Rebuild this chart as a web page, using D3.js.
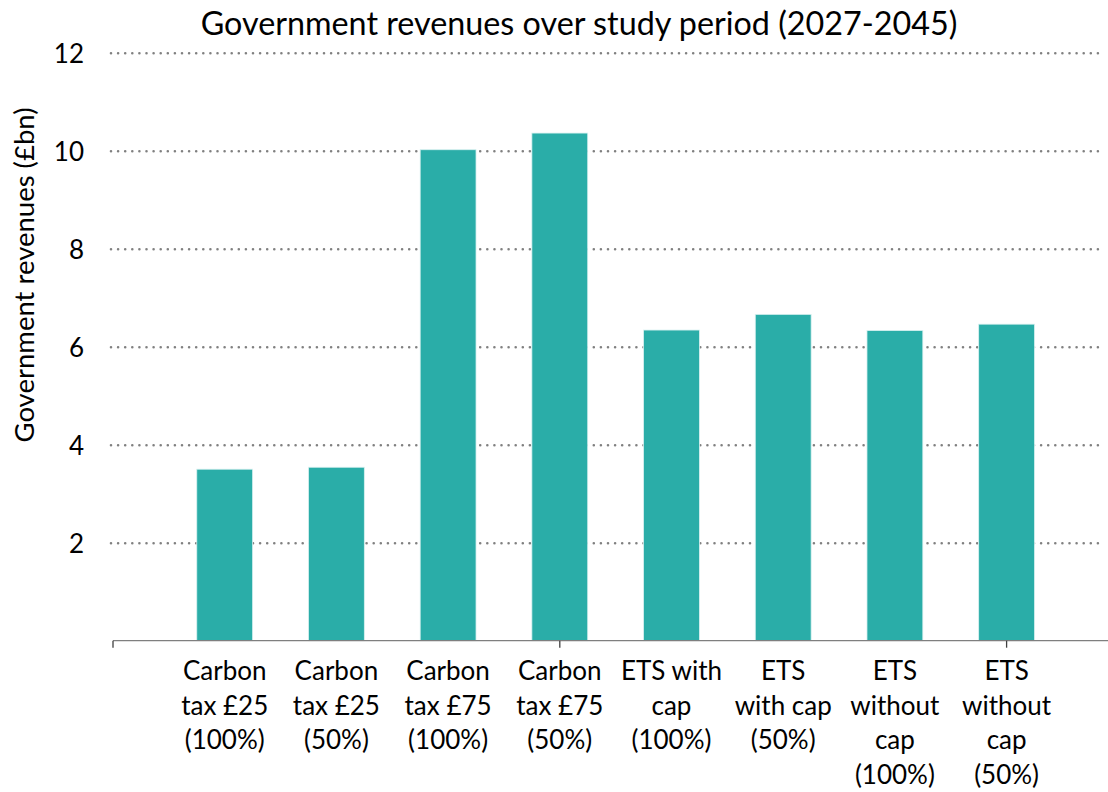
<!DOCTYPE html>
<html>
<head>
<meta charset="utf-8">
<script src="https://cdn.jsdelivr.net/npm/d3@7"></script>
<style>
  html, body { margin: 0; padding: 0; background: #ffffff; }
  svg text { font-family: Lato, "Open Sans", sans-serif; fill: #000; }
</style>
</head>
<body>
<svg id="chart" width="1108" height="792"></svg>
<script>
// Scenario labels (one entry per line of the wrapped label)
const categories = [
  ["Carbon", "tax £25", "(100%)"],
  ["Carbon", "tax £25", "(50%)"],
  ["Carbon", "tax £75", "(100%)"],
  ["Carbon", "tax £75", "(50%)"],
  ["ETS with", "cap", "(100%)"],
  ["ETS", "with cap", "(50%)"],
  ["ETS", "without", "cap", "(100%)"],
  ["ETS", "without", "cap", "(50%)"]
];
// Government revenues over 2027-2045, £bn
const revenues = [3.50, 3.54, 10.02, 10.36, 6.34, 6.66, 6.33, 6.46];
const yTicks = [2, 4, 6, 8, 10, 12];

const title = "Government revenues over study period (2027-2045)";
const yTitle = "Government revenues (£bn)";

const svg = d3.select("#chart");

const plotLeft = 113, plotRight = 1108;
const yBottom = 640.7, yTop = 52.7;
const step = 111.7;

const keys = categories.map((d, i) => i);
const x = d3.scaleBand()
  .domain(keys)
  .range([plotLeft + step / 2, plotLeft + step / 2 + step * keys.length])
  .paddingInner(0.5)
  .paddingOuter(0.25);

const y = d3.scaleLinear().domain([0, 12]).range([yBottom, yTop]);

// dotted horizontal gridlines with tick labels
const yAxis = svg.append("g")
  .attr("transform", `translate(${plotLeft},0)`)
  .call(d3.axisLeft(y).tickValues(yTicks).tickSize(-(plotRight - plotLeft - 4)).tickPadding(29));
yAxis.select(".domain").remove();
yAxis.selectAll(".tick line")
  .attr("x1", -2)
  .attr("stroke", "#808080")
  .attr("stroke-width", 2.6)
  .attr("stroke-linecap", "round")
  .attr("stroke-dasharray", "0,7.1");
yAxis.selectAll(".tick text")
  .attr("font-size", 26)
  .attr("dy", "0.36em")
  .style("font-family", "Lato, sans-serif");

// bars
svg.append("g")
  .selectAll("rect")
  .data(revenues)
  .join("rect")
  .attr("x", (d, i) => x(i))
  .attr("width", x.bandwidth())
  .attr("y", d => y(d))
  .attr("height", d => y(0) - y(d))
  .attr("fill", "#2aada8")
  .attr("stroke", "#d9f1f0")
  .attr("stroke-width", 0.8);

// category axis baseline and sparse ticks
const axisG = svg.append("g");
axisG.append("line")
  .attr("x1", plotLeft).attr("x2", plotRight)
  .attr("y1", y(0)).attr("y2", y(0))
  .attr("stroke", "#7f7f7f").attr("stroke-width", 1.3);
const center = i => x(i) + x.bandwidth() / 2;
const tickXs = [center(0) - x.step(), center(3), center(7)];
axisG.selectAll("line.tk")
  .data(tickXs)
  .join("line")
  .attr("class", "tk")
  .attr("x1", d => d).attr("x2", d => d)
  .attr("y1", y(0)).attr("y2", y(0) + 7)
  .attr("stroke", "#404040").attr("stroke-width", 1.3);

// wrapped category labels
const lab = svg.append("g")
  .selectAll("text")
  .data(categories)
  .join("text")
  .attr("text-anchor", "middle")
  .attr("font-size", 26)
  .attr("x", (d, i) => center(i))
  .attr("y", 680);
lab.selectAll("tspan")
  .data(d => d)
  .join("tspan")
  .attr("x", function() { return this.parentNode.getAttribute("x"); })
  .attr("dy", (d, j) => j === 0 ? 0 : 34.5)
  .text(d => d);

// title
svg.append("text")
  .attr("x", 579).attr("y", 35)
  .attr("text-anchor", "middle")
  .attr("font-size", 32.3)
  .text(title);

// y-axis title
svg.append("text")
  .attr("transform", `translate(34,${275}) rotate(-90)`)
  .attr("text-anchor", "middle")
  .attr("font-size", 27.5)
  .text(yTitle);
</script>
</body>
</html>
